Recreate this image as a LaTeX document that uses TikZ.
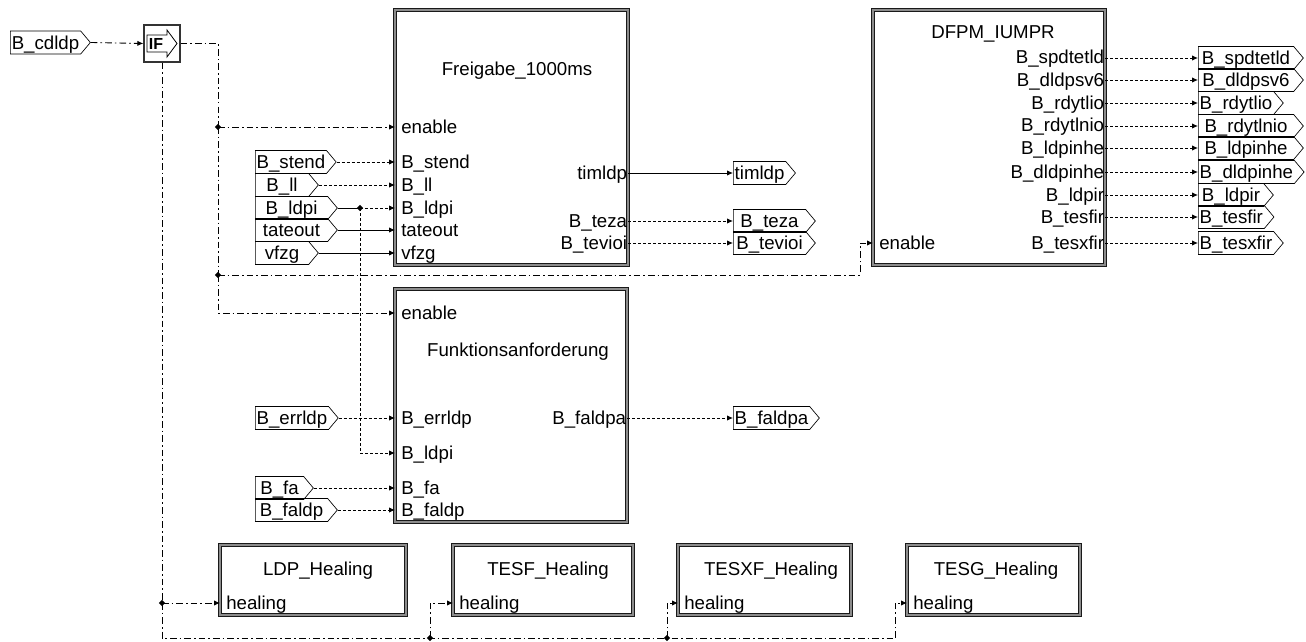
\documentclass[tikz,border=0pt]{standalone}
\usepackage{fontspec}
\setmainfont{Liberation Sans}
\usetikzlibrary{arrows.meta, positioning, fit, shapes.geometric, shapes.symbols}

\begin{document}
\begin{tikzpicture}[x=0.75pt, y=-0.75pt, font=\fontsize{14}{16}\selectfont,
        blk/.style={rectangle, draw=black!90, double=black!45, double distance=0.9pt, line width=0.75pt, inner sep=0pt},
        title/.style={inner sep=0pt, text height=9pt, text depth=0pt},
        portin/.style={anchor=west, inner xsep=4.5pt, inner ysep=0pt, text height=9pt, text depth=0pt},
        portout/.style={anchor=east, inner xsep=0.5pt, inner ysep=0pt, text height=9pt, text depth=0pt},
        tag/.style={signal, signal to=east, signal pointer angle=100, draw, line width=0.5pt, anchor=west, inner xsep=1pt, inner ysep=1.5pt, text height=12.35pt, text depth=1.9pt},
        dot/.style={diamond, fill=black, inner sep=0pt, minimum size=5pt},
        arr/.style={-{Latex[length=4.5pt, width=4pt]}},
        sig/.style={line width=0.65pt},
        bool/.style={line width=0.65pt, dash pattern=on 2.25pt off 1.5pt},
        enab/.style={line width=0.65pt, dash pattern=on 5pt off 2.25pt on 1.25pt off 2.25pt}]

    \useasboundingbox (0,0) rectangle (1306,642);

    % Trigger
    \node[tag, minimum width=60pt] (tCdldp) at (10,42.5) {B\_cdldp};
    \node[rectangle, draw=black!80, fill=white, line width=1pt, inner sep=0pt, fit={(144,25) (180,62)}] (ifBlk) {};
    \draw[line width=0.6pt] (147,35) -- (167,35) -- (167,30) -- (177,43.5) -- (167,57) -- (167,52) -- (147,52) -- cycle;
    \node[font=\fontsize{12}{14}\selectfont\bfseries, inner sep=0pt] (ifTxt) at (156,44) {IF};

    % Freigabe_1000ms
    \node[blk, fit={(395,10) (628,265)}] (fgBlk) {};
    \node[title] (fgTitle) at (517,69) {Freigabe\_1000ms};
    \node[portin] (fgEnable) at (395,127) {enable};
    \node[portin] (fgStend) at (395,162) {B\_stend};
    \node[portin] (fgLl) at (395,185) {B\_ll};
    \node[portin] (fgLdpi) at (395,208) {B\_ldpi};
    \node[portin] (fgTateout) at (395,230) {tateout};
    \node[portin] (fgVfzg) at (395,253) {vfzg};
    \node[portout] (fgTimldp) at (628,173) {timldp};
    \node[portout] (fgTeza) at (628,221) {B\_teza};
    \node[portout] (fgTevioi) at (628,243) {B\_tevioi};

    \node[tag, minimum width=60pt] (tStend) at (255,162) {B\_stend};
    \node[tag, minimum width=47.25pt] (tLl) at (255,185) {B\_ll};
    \node[tag, minimum width=61.5pt] (tLdpi) at (255,208) {B\_ldpi};
    \node[tag, minimum width=61.5pt] (tTateout) at (255,230) {tateout};
    \node[tag, minimum width=47.25pt] (tVfzg) at (255,253) {vfzg};
    \node[dot] (jLdpi) at (360,208) {};

    \node[tag, minimum width=44.25pt] (tTimldp) at (733,173) {timldp};
    \node[tag, minimum width=61.5pt] (tTeza) at (733,221) {B\_teza};
    \node[tag, minimum width=61.5pt] (tTevioi) at (733,243) {B\_tevioi};

    % DFPM_IUMPR
    \node[blk, fit={(873,10) (1105,265)}] (dfBlk) {};
    \node[title] (dfTitle) at (993,33) {DFPM\_IUMPR};
    \node[portin] (dfEnable) at (873,243) {enable};
    \node[portout] (dfSpdtetld) at (1105,58) {B\_spdtetld};
    \node[portout] (dfDldpsv) at (1105,80) {B\_dldpsv6};
    \node[portout] (dfRdytlio) at (1105,103) {B\_rdytlio};
    \node[portout] (dfRdytlnio) at (1105,126) {B\_rdytlnio};
    \node[portout] (dfLdpinhe) at (1105,148) {B\_ldpinhe};
    \node[portout] (dfDldpinhe) at (1105,172) {B\_dldpinhe};
    \node[portout] (dfLdpir) at (1105,195) {B\_ldpir};
    \node[portout] (dfTesfir) at (1105,217) {B\_tesfir};
    \node[portout] (dfTesxfir) at (1105,243) {B\_tesxfir};

    \node[tag, minimum width=78.75pt] (tSpdtetld) at (1198,58) {B\_spdtetld};
    \node[tag, minimum width=78.75pt] (tDldpsv) at (1198,80) {B\_dldpsv6};
    \node[tag, minimum width=56.25pt] (tRdytlio) at (1198,103) {B\_rdytlio};
    \node[tag, minimum width=78.75pt] (tRdytlnio) at (1198,126) {B\_rdytlnio};
    \node[tag, minimum width=78.75pt] (tLdpinhe) at (1198,148) {B\_ldpinhe};
    \node[tag, minimum width=78.75pt] (tDldpinhe) at (1198,172) {B\_dldpinhe};
    \node[tag, minimum width=56.25pt] (tLdpir) at (1198,195) {B\_ldpir};
    \node[tag, minimum width=56.25pt] (tTesfir) at (1198,217) {B\_tesfir};
    \node[tag, minimum width=56.25pt] (tTesxfir) at (1198,243) {B\_tesxfir};

    % Funktionsanforderung
    \node[blk, fit={(395,289) (627,522)}] (faBlk) {};
    \node[title] (faTitle) at (518,350) {Funktionsanforderung};
    \node[portin] (faEnable) at (395,313) {enable};
    \node[portin] (faErrldp) at (395,418) {B\_errldp};
    \node[portin] (faLdpi) at (395,453) {B\_ldpi};
    \node[portin] (faFa) at (395,488) {B\_fa};
    \node[portin] (faFaldp) at (395,510) {B\_faldp};
    \node[portout] (faFaldpa) at (627,418) {B\_faldpa};

    \node[tag, minimum width=61.5pt] (tErrldp) at (255,418) {B\_errldp};
    \node[tag, minimum width=43.5pt] (tFa) at (255,488) {B\_fa};
    \node[tag, minimum width=61.5pt] (tFaldp) at (255,510) {B\_faldp};
    \node[tag, minimum width=61.5pt] (tFaldpa) at (733,418) {B\_faldpa};

    % Healing
    \node[blk, fit={(220,545) (406,615)}] (ldpBlk) {};
    \node[title] (ldpTitle) at (318,569) {LDP\_Healing};
    \node[portin] (ldpHeal) at (220,603) {healing};
    \node[blk, fit={(453,545) (633,615)}] (tesfBlk) {};
    \node[title] (tesfTitle) at (548,569) {TESF\_Healing};
    \node[portin] (tesfHeal) at (453,603) {healing};
    \node[blk, fit={(678,545) (851,615)}] (tesxfBlk) {};
    \node[title] (tesxfTitle) at (771,569) {TESXF\_Healing};
    \node[portin] (tesxfHeal) at (678,603) {healing};
    \node[blk, fit={(907,545) (1080,615)}] (tesgBlk) {};
    \node[title] (tesgTitle) at (996,569) {TESG\_Healing};
    \node[portin] (tesgHeal) at (907,603) {healing};

    % enable lines
    \node[dot] (jEnA) at (218,127) {};
    \node[dot] (jEnB) at (218,275) {};
    \coordinate (dfCorner) at (860,275);
    \draw[enab, arr] (tCdldp.east) -- (ifBlk.west);
    \draw[enab] (ifBlk.east) -| (jEnA.center);
    \draw[enab, arr] (jEnA.center) -- (fgEnable.west);
    \draw[enab] (jEnA.center) -- (jEnB.center);
    \draw[enab, arr] (jEnB.center) |- (faEnable.west);
    \draw[enab, arr] (jEnB.center) -- (dfCorner) |- (dfEnable.west);

    \node[dot] (jHeal) at (162,603) {};
    \node[dot] (jTesf) at (430,638) {};
    \node[dot] (jTesxf) at (667,638) {};
    \coordinate (botLeft) at (162,638);
    \coordinate (botRight) at (895,638);
    \draw[enab] (ifBlk.south) -- (jHeal.center);
    \draw[enab, arr] (jHeal.center) -- (ldpHeal.west);
    \draw[enab] (jHeal.center) -- (botLeft) -- (jTesf.center) -- (jTesxf.center) -- (botRight);
    \draw[enab, arr] (jTesf.center) |- (tesfHeal.west);
    \draw[enab, arr] (jTesxf.center) |- (tesxfHeal.west);
    \draw[enab, arr] (botRight) |- (tesgHeal.west);

    % signals
    \draw[bool, arr] (tStend.east) -- (fgStend.west);
    \draw[bool, arr] (tLl.east) -- (fgLl.west);
    \draw[sig] (tLdpi.east) -- (jLdpi.center);
    \draw[bool, arr] (jLdpi.center) -- (fgLdpi.west);
    \draw[bool, arr] (jLdpi.center) |- (faLdpi.west);
    \draw[sig, arr] (tTateout.east) -- (fgTateout.west);
    \draw[sig, arr] (tVfzg.east) -- (fgVfzg.west);
    \draw[sig, arr] (fgTimldp.east) -- (tTimldp.west);
    \draw[bool, arr] (fgTeza.east) -- (tTeza.west);
    \draw[bool, arr] (fgTevioi.east) -- (tTevioi.west);

    \draw[bool, arr] (dfSpdtetld.east) -- (tSpdtetld.west);
    \draw[bool, arr] (dfDldpsv.east) -- (tDldpsv.west);
    \draw[bool, arr] (dfRdytlio.east) -- (tRdytlio.west);
    \draw[bool, arr] (dfRdytlnio.east) -- (tRdytlnio.west);
    \draw[bool, arr] (dfLdpinhe.east) -- (tLdpinhe.west);
    \draw[bool, arr] (dfDldpinhe.east) -- (tDldpinhe.west);
    \draw[bool, arr] (dfLdpir.east) -- (tLdpir.west);
    \draw[bool, arr] (dfTesfir.east) -- (tTesfir.west);
    \draw[bool, arr] (dfTesxfir.east) -- (tTesxfir.west);

    \draw[bool, arr] (tErrldp.east) -- (faErrldp.west);
    \draw[bool, arr] (tFa.east) -- (faFa.west);
    \draw[bool, arr] (tFaldp.east) -- (faFaldp.west);
    \draw[bool, arr] (faFaldpa.east) -- (tFaldpa.west);

\end{tikzpicture}
\end{document}
